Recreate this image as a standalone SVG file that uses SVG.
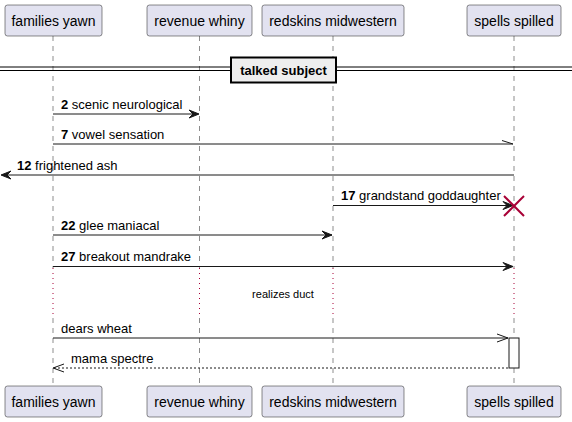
<svg xmlns="http://www.w3.org/2000/svg" width="572" height="422" viewBox="0 0 572 422">
<defs>
<style>
.part rect{fill:#E2E2F0;stroke:#181818;stroke-width:0.5}
.part text{font-family:"Liberation Sans",Arial,sans-serif;font-size:14px;fill:#000;text-anchor:middle}
.life{stroke:#181818;stroke-width:0.5;stroke-dasharray:5,5;fill:none}
.dot{stroke:#A80036;stroke-width:1;stroke-dasharray:1,4;fill:none}
.msg{stroke:#181818;stroke-width:1;fill:none}
.dash{stroke:#181818;stroke-width:1;stroke-dasharray:2,2;fill:none}
.head{fill:#181818;stroke:#181818;stroke-width:1}
.lbl{font-family:"Liberation Sans",Arial,sans-serif;font-size:13px;fill:#000}
.num{font-weight:bold}
</style>
</defs>
<rect width="572" height="422" fill="#FFFFFF"/>
<g id="lifelines">
<line class="life" x1="53" y1="36" x2="53" y2="268"/>
<line class="dot" x1="53" y1="268" x2="53" y2="318"/>
<line class="life" x1="53" y1="318" x2="53" y2="386"/>
<line class="life" x1="199.5" y1="36" x2="199.5" y2="268"/>
<line class="dot" x1="199.5" y1="268" x2="199.5" y2="318"/>
<line class="life" x1="199.5" y1="318" x2="199.5" y2="386"/>
<line class="life" x1="333" y1="36" x2="333" y2="268"/>
<line class="dot" x1="333" y1="268" x2="333" y2="318"/>
<line class="life" x1="333" y1="318" x2="333" y2="386"/>
<line class="life" x1="514" y1="36" x2="514" y2="268"/>
<line class="dot" x1="514" y1="268" x2="514" y2="318"/>
<line class="life" x1="514" y1="318" x2="514" y2="386"/>
</g>
<g id="p1" class="part"><rect x="5" y="5" width="97" height="31" rx="2.5"/><text x="53.5" y="25.5">families yawn</text></g>
<g id="p2" class="part"><rect x="147" y="5" width="105" height="31" rx="2.5"/><text x="199.5" y="25.5">revenue whiny</text></g>
<g id="p3" class="part"><rect x="262" y="5" width="142" height="31" rx="2.5"/><text x="333" y="25.5">redskins midwestern</text></g>
<g id="p4" class="part"><rect x="467" y="5" width="94" height="31" rx="2.5"/><text x="514" y="25.5">spells spilled</text></g>
<g id="p1b" class="part"><rect x="5" y="386" width="97" height="31" rx="2.5"/><text x="53.5" y="406.5">families yawn</text></g>
<g id="p2b" class="part"><rect x="147" y="386" width="105" height="31" rx="2.5"/><text x="199.5" y="406.5">revenue whiny</text></g>
<g id="p3b" class="part"><rect x="262" y="386" width="142" height="31" rx="2.5"/><text x="333" y="406.5">redskins midwestern</text></g>
<g id="p4b" class="part"><rect x="467" y="386" width="94" height="31" rx="2.5"/><text x="514" y="406.5">spells spilled</text></g>
<g id="divider">
<line x1="0" y1="67" x2="572" y2="67" stroke="#000" stroke-width="1"/>
<line x1="0" y1="70.5" x2="572" y2="70.5" stroke="#000" stroke-width="1"/>
<rect x="231" y="57.5" width="105" height="25" fill="#EEEEEE" stroke="#000" stroke-width="2"/>
<text x="283.5" y="75" class="lbl num" text-anchor="middle">talked subject</text>
</g>
<g id="activation"><rect x="509" y="338" width="10" height="30" fill="#FFFFFF" stroke="#181818" stroke-width="1"/></g>
<g id="connectors">
<line class="msg" x1="53" y1="114" x2="198" y2="114"/>
<polygon class="head" points="189,110 199,114 189,118 193,114"/>
<text class="lbl" x="61" y="108.5"><tspan class="num">2</tspan> scenic neurological</text>

<line class="msg" x1="53" y1="144" x2="513" y2="144"/>
<line class="msg" x1="502" y1="140.5" x2="513" y2="144"/>
<text class="lbl" x="61" y="138.5"><tspan class="num">7</tspan> vowel sensation</text>

<line class="msg" x1="2" y1="175" x2="514" y2="175"/>
<polygon class="head" points="11,171 1,175 11,179 7,175"/>
<text class="lbl" x="17" y="169.5"><tspan class="num">12</tspan> frightened ash</text>

<line class="msg" x1="333" y1="205.5" x2="512" y2="205.5"/>
<polygon class="head" points="503,201.5 513,205.5 503,209.5 507,205.5"/>
<text class="lbl" x="341" y="200"><tspan class="num">17</tspan> grandstand goddaughter</text>
<g stroke="#A80036" stroke-width="2"><line x1="504" y1="196" x2="524" y2="216"/><line x1="524" y1="196" x2="504" y2="216"/></g>

<line class="msg" x1="53" y1="235" x2="332" y2="235"/>
<polygon class="head" points="322,231 332,235 322,239 326,235"/>
<text class="lbl" x="61" y="230"><tspan class="num">22</tspan> glee maniacal</text>

<line class="msg" x1="53" y1="266.5" x2="513" y2="266.5"/>
<polygon class="head" points="503,262.5 513,266.5 503,270.5 507,266.5"/>
<text class="lbl" x="61" y="261"><tspan class="num">27</tspan> breakout mandrake</text>

<text x="283" y="298" font-family="Liberation Sans,Arial,sans-serif" font-size="11px" text-anchor="middle">realizes duct</text>

<line class="msg" x1="53" y1="338" x2="508" y2="338"/>
<polyline class="msg" points="497,334 508,338 497,342"/>
<text class="lbl" x="61" y="332.5">dears wheat</text>

<line class="dash" x1="54" y1="368" x2="509" y2="368"/>
<polyline class="msg" points="64,364 53,368 64,372"/>
<text class="lbl" x="71" y="363">mama spectre</text>
</g>
</svg>
